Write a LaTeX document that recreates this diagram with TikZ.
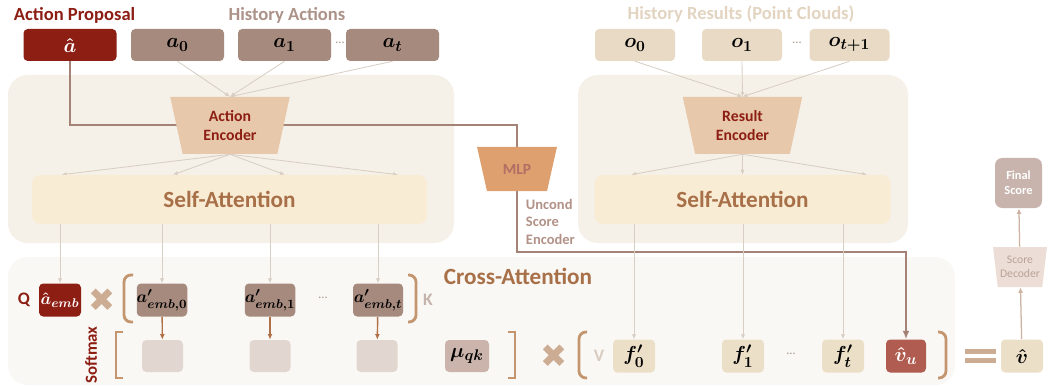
\documentclass[tikz,border=0pt]{standalone}
\usepackage{amsmath}
\usepackage{amssymb}
\usepackage{fontspec}
\setmainfont{Carlito}
\newfontfamily\symfont{DejaVu Sans}
\usepackage{xcolor}
\usepackage{tikz}
\usetikzlibrary{positioning, shapes.geometric, arrows.meta, calc}
\definecolor{propred}{RGB}{140,30,20}
\definecolor{histtaupe}{RGB}{166,138,126}
\definecolor{histtext}{RGB}{172,146,136}
\definecolor{restext}{RGB}{226,212,192}
\definecolor{resfill}{RGB}{232,218,196}
\definecolor{panelbg}{RGB}{245,240,232}
\definecolor{crossbg}{RGB}{250,248,244}
\definecolor{encfill}{RGB}{232,200,170}
\definecolor{attnfill}{RGB}{249,236,212}
\definecolor{attntext}{RGB}{168,112,72}
\definecolor{mlpfill}{RGB}{221,160,110}
\definecolor{mlptext}{RGB}{178,110,100}
\definecolor{thincol}{RGB}{216,206,196}
\definecolor{pathcol}{RGB}{165,130,118}
\definecolor{brackcol}{RGB}{196,150,112}
\definecolor{crosscol}{RGB}{204,172,146}
\definecolor{softfill}{RGB}{226,214,208}
\definecolor{mufill}{RGB}{202,180,172}
\definecolor{featfill}{RGB}{236,223,200}
\definecolor{vufill}{RGB}{176,92,80}
\definecolor{decfill}{RGB}{236,222,214}
\definecolor{dectext}{RGB}{186,162,152}
\definecolor{finalfill}{RGB}{200,180,172}
\definecolor{smallarr}{RGB}{176,112,72}
\definecolor{ktext}{RGB}{196,180,172}
\definecolor{vtext}{RGB}{216,204,192}
\definecolor{dotcol}{RGB}{170,150,140}
\definecolor{uptext}{RGB}{205,178,160}
\definecolor{labtext}{RGB}{178,145,135}
\newcommand{\pxu}{0.025cm}
\pgfdeclarelayer{back}
\pgfdeclarelayer{mid}
\pgfsetlayers{back,mid,main}

\begin{document}
\begin{tikzpicture}[
      x=\pxu, y=-\pxu,
      every node/.style={align=center, font=\bfseries},
      title/.style={font=\fontsize{13.2}{15}\selectfont\bfseries},
      mathbox/.style={rounded corners=3pt, inner sep=0pt,
                      font=\fontsize{15.5}{18}\selectfont\boldmath},
      actbox/.style={mathbox, fill=histtaupe, minimum width=93*\pxu, minimum height=32*\pxu},
      propbox/.style={actbox, fill=propred, text=white},
      resbox/.style={mathbox, fill=resfill, minimum width=80*\pxu, minimum height=32*\pxu},
      encoder/.style={trapezium, trapezium left angle=103, trapezium right angle=103,
                      trapezium stretches=true, fill=encfill, inner sep=0pt,
                      minimum width=120*\pxu, minimum height=57*\pxu, text=propred,
                      font=\fontsize{11.2}{13.5}\selectfont\bfseries},
      attn/.style={rounded corners=6pt, fill=attnfill, minimum height=49*\pxu,
                   text=attntext, font=\fontsize{16.5}{19}\selectfont\bfseries},
      embbox/.style={mathbox, font=\fontsize{13}{16}\selectfont\boldmath, fill=histtaupe,
                     minimum width=50*\pxu, minimum height=33*\pxu},
      softbox/.style={rounded corners=3pt, fill=softfill, minimum width=41*\pxu,
                      minimum height=32*\pxu},
      featbox/.style={mathbox, fill=featfill, minimum width=42*\pxu, minimum height=33*\pxu},
      dotsym/.style={text=dotcol, font=\small},
      crossmark/.style={text=crosscol, font=\fontsize{23}{23}\selectfont\symfont},
      thinline/.style={draw=thincol, line width=0.6pt, -{Latex[length=3.5pt,width=3pt]}},
      pathline/.style={draw=pathcol, line width=1.4pt},
      brace/.style={draw=brackcol, line width=2pt},
    ]
    \useasboundingbox (0,0) rectangle (1048,387);

    % panels
    \begin{pgfonlayer}{back}
      \fill[panelbg, rounded corners=14pt] (8,75) rectangle (454,243);
      \fill[panelbg, rounded corners=14pt] (578,75) rectangle (908,243);
      \fill[crossbg, rounded corners=14pt] (8,257) rectangle (955,385);
    \end{pgfonlayer}

    % inputs
    \node[title, text=propred, anchor=west] (proptitle) at (9,15) {Action Proposal};
    \node[title, text=histtext] (acttitle) at (287,15) {History Actions};
    \node[title, text=restext] (restitle) at (741,14) {History Results (Point Clouds)};

    \node[propbox] (ahat) at (70,45) {$\hat{a}$};
    \node[actbox] (a0) at (177.5,45) {$a_0$};
    \node[actbox] (a1) at (284.5,45) {$a_1$};
    \node[dotsym] (adots) at (340,43) {\dots};
    \node[actbox] (at) at (392.5,45) {$a_t$};

    \node[resbox] (o0) at (635,45) {$o_0$};
    \node[resbox] (o1) at (742,45) {$o_1$};
    \node[dotsym] (odots) at (797,43) {\dots};
    \node[resbox] (ot) at (849.5,45) {$o_{t+1}$};

    % encoders
    \node[encoder] (actenc) at (230,125.5) {Action\\Encoder};
    \node[encoder] (resenc) at (742.5,125.5) {Result\\Encoder};
    \node[attn, minimum width=395*\pxu] (sal) at (229.5,199.5) {Self-Attention};
    \node[attn, minimum width=296*\pxu] (sar) at (742.5,199.5) {Self-Attention};

    \node[trapezium, trapezium left angle=115, trapezium right angle=115,
          trapezium stretches=true, fill=mlpfill, inner sep=0pt,
          minimum width=80*\pxu, minimum height=44*\pxu, text=mlptext,
          font=\fontsize{11}{12}\selectfont\bfseries] (mlp) at (517,169) {MLP};
    \node[anchor=north west, align=left, text=labtext,
          font=\fontsize{10.3}{12.4}\selectfont\bfseries] (uncond) at (521,194)
          {Uncond\\Score\\Encoder};

    % cross attention
    \node[text=attntext, font=\fontsize{16.5}{19}\selectfont\bfseries] (crosstitle) at (518,276) {Cross-Attention};
    \node[text=propred, font=\fontsize{12.5}{14}\selectfont\bfseries] (qlab) at (24,300) {Q};
    \node[embbox, fill=propred, text=white, minimum width=42*\pxu] (aemb) at (60,300) {$\hat{a}_{emb}$};
    \node[crossmark] (crossA) at (102,300) {✖};
    \node[embbox] (ae0) at (162,300) {$a'_{emb,0}$};
    \node[embbox] (ae1) at (270,300) {$a'_{emb,1}$};
    \node[dotsym] (edots) at (323,298) {\dots};
    \node[embbox] (aet) at (378,300) {$a'_{emb,t}$};
    \node[text=ktext, font=\fontsize{12.5}{14}\selectfont\bfseries] (klab) at (428,300) {K};

    \node[rotate=90, text=propred, font=\fontsize{12}{14}\selectfont\bfseries] (smlab) at (91,355) {Softmax};
    \node[softbox] (sm0) at (162.5,356) {};
    \node[softbox] (sm1) at (270,356) {};
    \node[softbox] (smt) at (377,356) {};
    \node[mathbox, fill=mufill, minimum width=44*\pxu, minimum height=32*\pxu] (mu) at (467,356) {$\mu_{qk}$};
    \node[crossmark] (crossB) at (554,356) {✖};
    \node[text=vtext, font=\fontsize{12.5}{14}\selectfont\bfseries] (vlab) at (599,356) {V};
    \node[featbox] (f0) at (634,356) {$f'_0$};
    \node[featbox] (f1) at (743,356) {$f'_1$};
    \node[dotsym] (fdots) at (791,354) {\dots};
    \node[featbox] (ft) at (843,356) {$f'_t$};
    \node[mathbox, fill=vufill, text=white, minimum width=40*\pxu, minimum height=33*\pxu] (vu) at (906,356) {$\hat{v}_u$};
    \node[featbox] (vhat) at (1022,356) {$\hat{v}$};

    % decoder
    \node[trapezium, trapezium left angle=101, trapezium right angle=101,
          trapezium stretches=true, fill=decfill, inner sep=0pt,
          minimum width=54*\pxu, minimum height=40*\pxu, text=dectext,
          font=\fontsize{8.3}{10}\selectfont] (dec) at (1020,267) {Score\\Decoder};
    \node[rounded corners=5pt, fill=finalfill, text=white, minimum width=47*\pxu,
          minimum height=50*\pxu, font=\fontsize{8.8}{10.5}\selectfont\bfseries] (final) at (1018.5,183) {Final\\Score};

    % brackets and equals
    \draw[brace, rounded corners=5pt] (133,275) -- (124,275) -- (124,322) -- (133,322);
    \draw[brace, rounded corners=5pt] (408,275) -- (416,275) -- (416,322) -- (408,322);
    \draw[brace] (123,332) -- (116,332) -- (116,378) -- (123,378);
    \draw[brace] (508,332) -- (515,332) -- (515,378) -- (508,378);
    \draw[brace, rounded corners=5pt] (587,332) -- (579,332) -- (579,378) -- (587,378);
    \draw[brace, rounded corners=5pt] (938,332) -- (946,332) -- (946,378) -- (938,378);
    \fill[crosscol] (965,349) rectangle (996,354);
    \fill[crosscol] (965,358) rectangle (996,363);

    % connectors
    \begin{pgfonlayer}{mid}
      \coordinate (kneeA) at (300,125);
      \coordinate (kneeB) at (700,252);
      \draw[pathline] (ahat.south) |- (kneeA) -| (mlp.north);
      \draw[pathline, -{Latex[length=6pt,width=5pt]}] (mlp.south) |- (kneeB) -| (vu.north);
      \foreach \n in {a0,a1,at}
        \draw[thinline] (\n.south) -- (actenc.north);
      \foreach \n in {o0,o1,ot}
        \draw[thinline] (\n.south) -- (resenc.north);
      \foreach \f in {0.076,0.357,0.64,0.926}
        \draw[thinline] (actenc.south) -- ($(sal.north west)!\f!(sal.north east)$);
      \foreach \f in {0.125,0.5,0.92}
        \draw[thinline] (resenc.south) -- ($(sar.north west)!\f!(sar.north east)$);
      \foreach \n in {aemb,ae0,ae1,aet}
        \draw[thinline] (sal.south -| \n) -- (\n.north);
      \foreach \n in {f0,f1,ft}
        \draw[thinline] (sar.south -| \n) -- (\n.north);
      \foreach \k/\s in {ae0/sm0,ae1/sm1,aet/smt}
        \draw[smallarr, line width=1pt, -{Latex[length=4pt,width=3.5pt]}] (\k) -- (\s);
      \draw[uptext, line width=0.9pt, -{Latex[length=4pt,width=3.5pt]}] (vhat) -- (dec);
      \draw[uptext, line width=0.9pt, -{Latex[length=4pt,width=3.5pt]}] (dec) -- (final);
    \end{pgfonlayer}
  \end{tikzpicture}
\end{document}
